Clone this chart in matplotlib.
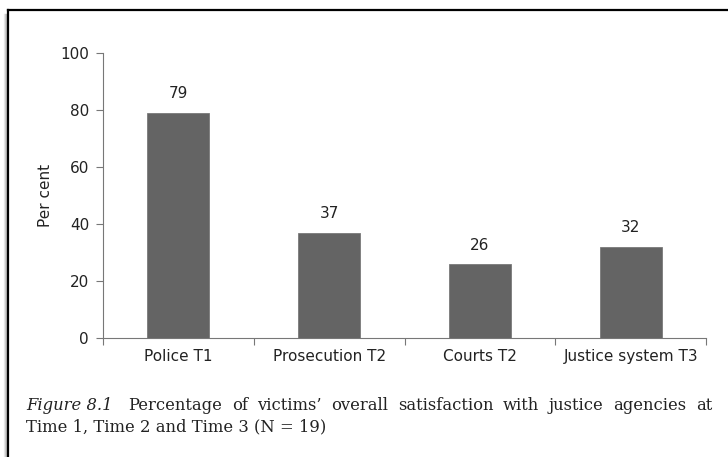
import matplotlib.pyplot as plt
from matplotlib.lines import Line2D
import numpy as np

categories = ["Police T1", "Prosecution T2", "Courts T2", "Justice system T3"]
values = [79, 37, 26, 32]
caption_line1 = "Percentage of victims\u2019 overall satisfaction with justice agencies at"
caption_line2 = "Time 1, Time 2 and Time 3 (N = 19)"

W, H = 728, 457
fig = plt.figure(figsize=(W / 100, H / 100), dpi=100)
plt.rcParams['font.family'] = ['DejaVu Sans']

# axes placed in pixel terms
x0, x1 = 103, 706
y_top, y_bot = 53, 338
ax = fig.add_axes([x0 / W, 1 - y_bot / H, (x1 - x0) / W, (y_bot - y_top) / H])

pos = np.arange(len(categories))
ax.bar(pos, values, width=0.41, color='#646464', edgecolor='#7a7a7a', linewidth=0.6, zorder=3)
for p, v in zip(pos, values):
    ax.text(p, v + 4, str(v), ha='center', va='bottom', fontsize=11, color='#222222')

ax.set_xlim(-0.5, len(categories) - 0.5)
ax.set_ylim(0, 100)
ax.set_yticks([0, 20, 40, 60, 80, 100])
ax.set_xticks(pos)
ax.set_xticklabels(categories, fontsize=11, color='#222222')
ax.set_xticks(np.arange(-0.5, len(categories)), minor=True)
ax.tick_params(axis='x', which='major', length=0, pad=8)
ax.tick_params(axis='x', which='minor', length=5, width=0.8, color='#777777', direction='out')
ax.tick_params(axis='y', length=5, width=0.8, color='#777777', labelsize=11, labelcolor='#222222', pad=5)
for s in ['top', 'right']:
    ax.spines[s].set_visible(False)
for s in ['left', 'bottom']:
    ax.spines[s].set_color('#777777')
    ax.spines[s].set_linewidth(0.8)
ax.spines['left'].set_bounds(0, 100)
ax.set_ylabel("Per cent", fontsize=11, color='#222222', labelpad=5)

# page frame with a soft shadow on the left
for i, a in enumerate([0.08, 0.15, 0.25]):
    fig.add_artist(Line2D([(4 + i) / W, (4 + i) / W], [0, 1 - 14 / H], color='black', alpha=a, lw=1))
fig.add_artist(Line2D([8 / W, 8 / W], [0, 1 - 10 / H], color='black', lw=1.6))
fig.add_artist(Line2D([8 / W, 1], [1 - 10 / H, 1 - 10 / H], color='black', lw=1.6))

# caption, first line justified
fig.canvas.draw()
renderer = fig.canvas.get_renderer()
cap_x0, cap_x1 = 26, 712
y1 = 1 - 410 / H
y2 = 1 - 431 / H
serif = ['DejaVu Serif']
words = [("Figure 8.1", 'italic')] + [(w, 'normal') for w in caption_line1.split()]
texts = []
for w, st in words:
    t = fig.text(0, y1, w, fontsize=11.8, family=serif, style=st, va='baseline', color='#222222')
    texts.append(t)
widths = [t.get_window_extent(renderer).width for t in texts]
gap_first = 16
rest = (cap_x1 - cap_x0) - sum(widths) - gap_first
gap = rest / (len(words) - 2)
x = cap_x0
for i, (t, wd) in enumerate(zip(texts, widths)):
    t.set_x(x / W)
    x += wd + (gap_first if i == 0 else gap)
fig.text(cap_x0 / W, y2, caption_line2, fontsize=11.8, family=serif, va='baseline', color='#222222')

fig.savefig("out.png", dpi=100)
